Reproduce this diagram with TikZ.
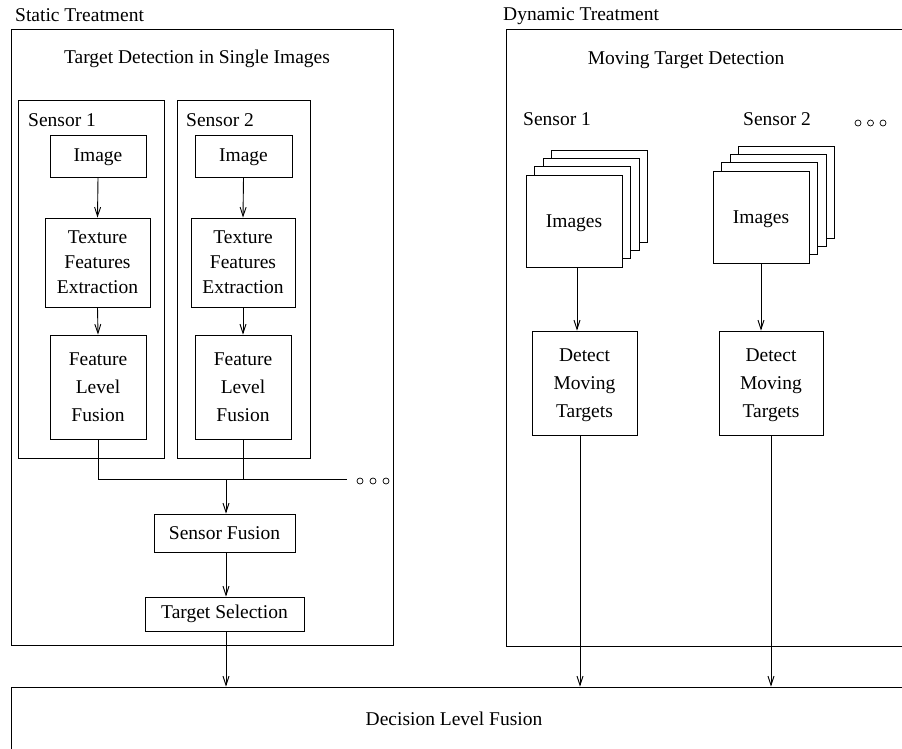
\documentclass[tikz,border=0pt]{standalone}
\usepackage{fontspec}
\setmainfont{Liberation Serif}
\usetikzlibrary{arrows.meta,calc}

\tikzset{
	box/.style={draw, line width=0.9pt, inner sep=0pt, align=center, fill=white, font=\fontsize{19.5}{25.2}\selectfont},
	tallbox/.style={box, font=\fontsize{19.5}{28}\selectfont},
	txt/.style={inner sep=0pt, font=\fontsize{19.5}{25.2}\selectfont},
	link/.style={line width=0.9pt},
	flow/.style={line width=0.9pt, -{Straight Barb[length=9pt,width=6pt]}},
	dots/.style={line width=0.7pt}
}

\begin{document}
\begin{tikzpicture}[x=1pt,y=-1pt]
			%%%%% START %%%%%
			\clip (0,0) rectangle (902,749);
			
			% static side
			\node[txt, anchor=base west] (sttitle) at (15,21.5) {Static Treatment};
			\node[box, minimum width=382, minimum height=616] (static) at (202,337) {};
			\node[txt, anchor=base] (single) at (197,64) {Target Detection in Single Images};
			
			\node[box, minimum width=146, minimum height=358] (sen1) at (91,279) {};
			\node[box, minimum width=133, minimum height=358] (sen2) at (243.5,279) {};
			\node[txt, anchor=base west] (sen1lab) at (28,127) {Sensor 1};
			\node[txt, anchor=base west] (sen2lab) at (186,127) {Sensor 2};
			
			\node[box, minimum width=96, minimum height=42, text depth=1.8pt] (img1) at (98,156) {Image};
			\node[box, minimum width=105, minimum height=89] (tex1) at (97.5,262.5) {Texture\\Features\\Extraction};
			\node[tallbox, minimum width=96, minimum height=104, text depth=-3.4pt] (feat1) at (98,387) {Feature\\Level\\Fusion};
			
			\node[box, minimum width=97, minimum height=42, text depth=1.8pt] (img2) at (243.5,156) {Image};
			\node[box, minimum width=104, minimum height=89] (tex2) at (243,262.5) {Texture\\Features\\Extraction};
			\node[tallbox, minimum width=96, minimum height=104, text depth=-3.4pt] (feat2) at (243,387) {Feature\\Level\\Fusion};
			
			\draw[flow] (img1.south) -- (tex1.north);
			\draw[flow] (tex1.south) -- (feat1.north);
			\draw[flow] (img2.south) -- (tex2.north);
			\draw[flow] (tex2.south) -- (feat2.north);
			
			\coordinate (merge) at (226,479);
			\coordinate (busend) at (347,479);
			\draw[link] (feat1.south) |- (busend);
			\draw[link] (feat2.south) -- (feat2.south |- merge);
			\foreach \x in {360,373,386}
				\draw[dots] (\x,481) circle (3pt);
			
			\node[box, minimum width=141, minimum height=38] (sfus) at (224.5,533) {Sensor Fusion};
			\node[box, minimum width=159, minimum height=34] (tsel) at (224.5,614) {Target Selection};
			
			\draw[flow] (merge) -- (merge |- sfus.north);
			\draw[flow] (sfus.south -| merge) -- (tsel.north -| merge);
			
			% dynamic side
			\node[txt, anchor=base west] (dytitle) at (503,21) {Dynamic Treatment};
			\node[box, minimum width=409, minimum height=617] (dynamic) at (710.5,337.5) {};
			\node[txt, anchor=base] (moving) at (686,65) {Moving Target Detection};
			\node[txt, anchor=base west] (dsen1lab) at (523,126) {Sensor 1};
			\node[txt, anchor=base west] (dsen2lab) at (743,126) {Sensor 2};
			\foreach \x in {858,870.5,883}
				\draw[dots] (\x,123) circle (3pt);
			
			\foreach \k in {3,2,1} {
				\draw[link, fill=white] ({526+8.5*\k},{175-8.3*\k}) rectangle +(96,92);
				\draw[link, fill=white] ({713+8.5*\k},{171-8.3*\k}) rectangle +(96,92);
			}
			\node[box, minimum width=96, minimum height=92, text depth=-4pt] (imgs1) at (574,221) {Images};
			\node[box, minimum width=96, minimum height=92, text depth=-2pt] (imgs2) at (761,217) {Images};
			
			\node[tallbox, minimum width=105, minimum height=104, text depth=0pt] (det1) at (584.5,383) {Detect\\Moving\\Targets};
			\node[tallbox, minimum width=104, minimum height=104, text depth=0pt] (det2) at (771,383) {Detect\\Moving\\Targets};
			
			% decision
			\node[box, minimum width=899, minimum height=64] (dec) at (460.5,719) {};
			\node[txt] (dectext) at (454,719) {Decision Level Fusion};
			
			\draw[flow] ([xshift=3pt]imgs1.south) -- ([xshift=3pt]imgs1.south |- det1.north);
			\draw[flow] (imgs2.south) -- (imgs2.south |- det2.north);
			\draw[flow] ([xshift=-4.5pt]det1.south) -- ([xshift=-4.5pt]det1.south |- dec.north);
			\draw[flow] (det2.south) -- (det2.south |- dec.north);
			\draw[flow] (tsel.south -| merge) -- (merge |- dec.north);
			
			%%%%% END %%%%%
\end{tikzpicture}
\end{document}
